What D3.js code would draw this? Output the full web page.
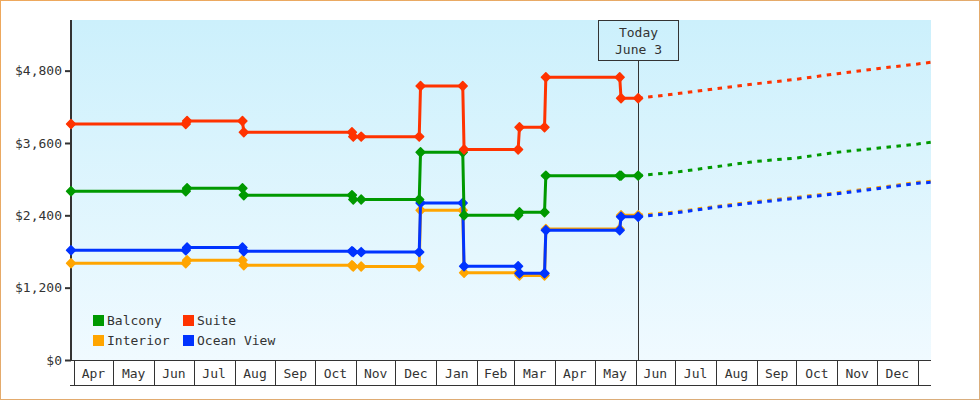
<!DOCTYPE html>
<html>
<head>
<meta charset="utf-8">
<script src="https://cdn.jsdelivr.net/npm/d3@7"></script>
<style>
  html, body { margin: 0; padding: 0; background: #fff; }
  svg { display: block; }
  text { font-family: "DejaVu Sans Mono", monospace; font-size: 13px; fill: #333; }
</style>
</head>
<body>
<svg id="chart" width="980" height="400"></svg>
<script>
// ---------- data ----------
const seriesNames = ["Interior", "Ocean View", "Balcony", "Suite"];
const seriesColors = ["#ffa500", "#0033ff", "#009900", "#ff3300"];

const historyDates = ["2014-03-30","2014-06-25","2014-06-26","2014-08-07","2014-08-08",
  "2014-10-29","2014-10-30","2014-11-05","2014-12-19","2014-12-20","2015-01-21","2015-01-22",
  "2015-03-04","2015-03-05","2015-03-24","2015-03-25","2015-05-20","2015-05-21","2015-06-03"];

const interiorHistory  = [1604,1604,1654,1654,1571,1571,1551,1551,1551,2484,2484,1448,1448,1402,1402,2173,2173,2401,2401];
const oceanViewHistory = [1820,1820,1866,1866,1805,1805,1790,1790,1790,2605,2605,1555,1555,1438,1438,2152,2152,2377,2377];
const balconyHistory   = [2799,2799,2849,2849,2734,2734,2663,2663,2663,3446,3446,2401,2401,2450,2450,3058,3058,3058,3058];
const suiteHistory     = [3915,3915,3965,3965,3777,3777,3705,3705,3705,4546,4546,3492,3492,3860,3860,4690,4690,4342,4342];

const forecastDates = ["2015-06-03","2015-07-01","2015-08-01","2015-09-01","2015-10-01",
  "2015-11-01","2015-12-01","2016-01-01","2016-01-11"];
const interiorForecast  = [2401,2455,2549,2629,2699,2775,2858,2947,2964];
const oceanViewForecast = [2377,2439,2533,2613,2683,2759,2842,2931,2948];
const balconyForecast   = [3058,3114,3207,3296,3351,3446,3512,3583,3612];
const suiteForecast     = [4342,4413,4501,4584,4657,4750,4833,4911,4939];

const yTicks = [0, 1200, 2400, 3600, 4800];
const domainStart = "2014-03-30";
const domainEnd = "2016-01-11";
const todayDate = "2015-06-03";
const todayLabel = ["Today", "June 3"];
const legendOrder = ["Balcony", "Suite", "Interior", "Ocean View"];

// ---------- chart ----------
const parse = d3.timeParse("%Y-%m-%d");
const histories = [interiorHistory, oceanViewHistory, balconyHistory, suiteHistory];
const forecasts = [interiorForecast, oceanViewForecast, balconyForecast, suiteForecast];

const svg = d3.select("#chart");
const L = 71, R = 931, T = 20, B = 360;

const x = d3.scaleTime().domain([parse(domainStart), parse(domainEnd)]).range([L, R]);
const y = d3.scaleLinear().domain([0, 5640]).range([B, T]);

const defs = svg.append("defs");
const grad = defs.append("linearGradient").attr("id", "bg").attr("x1", 0).attr("y1", 0).attr("x2", 0).attr("y2", 1);
grad.append("stop").attr("offset", "0%").attr("stop-color", "#ccf0fc");
grad.append("stop").attr("offset", "100%").attr("stop-color", "#f0faff");

const bgrad = defs.append("linearGradient").attr("id", "border").attr("x1", 0).attr("y1", 0).attr("x2", 1).attr("y2", 1);
bgrad.append("stop").attr("offset", "0%").attr("stop-color", "#eea85c");
bgrad.append("stop").attr("offset", "100%").attr("stop-color", "#d9ae7e");

svg.append("rect").attr("x", 0.5).attr("y", 0.5).attr("width", 979).attr("height", 399)
  .attr("fill", "#fff").attr("stroke", "url(#border)").attr("stroke-width", 1);

svg.append("rect").attr("x", L).attr("y", T).attr("width", R - L).attr("height", B - T)
  .attr("fill", "url(#bg)");

// x axis boxes
const months = d3.timeMonth.range(d3.timeMonth.ceil(x.domain()[0]), x.domain()[1]);
const axisG = svg.append("g");
axisG.append("line").attr("x1", L - 1).attr("x2", R).attr("y1", B + 0.5).attr("y2", B + 0.5)
  .attr("stroke", "#333").attr("stroke-width", 1);
axisG.append("line").attr("x1", L - 1).attr("x2", R).attr("y1", B + 25.5).attr("y2", B + 25.5)
  .attr("stroke", "#333").attr("stroke-width", 1);
axisG.selectAll("line.mt").data(months).join("line").attr("class", "mt")
  .attr("x1", d => Math.round(x(d)) + 0.5).attr("x2", d => Math.round(x(d)) + 0.5)
  .attr("y1", B).attr("y2", B + 25)
  .attr("stroke", "#333").attr("stroke-width", 1);
const fmtMonth = d3.timeFormat("%b");
axisG.selectAll("text.ml").data(months.filter(m => d3.timeMonth.offset(m, 1) <= x.domain()[1]))
  .join("text").attr("class", "ml")
  .attr("x", d => (x(d) + x(d3.timeMonth.offset(d, 1))) / 2)
  .attr("y", B + 18)
  .attr("text-anchor", "middle")
  .text(d => fmtMonth(d));

// y axis
const yAxis = d3.axisLeft(y).tickValues(yTicks).tickSizeInner(6).tickSizeOuter(0).tickPadding(3)
  .tickFormat(d => "$" + d3.format(",")(d));
const yg = svg.append("g").attr("transform", `translate(${L},0)`).call(yAxis);
yg.select(".domain").attr("stroke", "#333").attr("stroke-width", 2).attr("d", `M0,${T}V${B + 1}`);
yg.selectAll(".tick line").attr("stroke", "#333").attr("stroke-width", 2);
yg.selectAll(".tick text").attr("font-family", null).attr("font-size", null).attr("fill", "#333");
yg.attr("font-family", null).attr("font-size", null);

// today marker
const xt = x(parse(todayDate));
const xtr = Math.round(xt) + 0.5;
svg.append("line").attr("x1", xtr).attr("x2", xtr).attr("y1", T + 40).attr("y2", B)
  .attr("stroke", "#333").attr("stroke-width", 1);
svg.append("rect").attr("x", xtr - 40).attr("y", T + 0.5).attr("width", 80).attr("height", 40)
  .attr("fill", "none").attr("stroke", "#333").attr("stroke-width", 1);
svg.append("text").attr("x", xtr).attr("y", 37).attr("text-anchor", "middle").text(todayLabel[0]);
svg.append("text").attr("x", xtr).attr("y", 54).attr("text-anchor", "middle").text(todayLabel[1]);

// series
const line = d3.line().x(d => x(d.date)).y(d => y(d.value));
const diamond = "M0,-4.4L4.4,0L0,4.4L-4.4,0Z";

seriesNames.forEach((name, i) => {
  const color = seriesColors[i];
  const hist = historyDates.map((d, j) => ({ date: parse(d), value: histories[i][j] }));
  const fc = forecastDates.map((d, j) => ({ date: parse(d), value: forecasts[i][j] }));
  const g = svg.append("g");
  g.append("path").datum(fc).attr("d", line).attr("fill", "none")
    .attr("stroke", color).attr("stroke-width", 3).attr("stroke-dasharray", "4.5,5.5");
  g.append("path").datum(hist).attr("d", line).attr("fill", "none")
    .attr("stroke", color).attr("stroke-width", 3).attr("stroke-linejoin", "miter");
  g.selectAll("path.mk").data(hist).join("path").attr("class", "mk")
    .attr("d", diamond)
    .attr("transform", d => `translate(${x(d.date)},${y(d.value)})`)
    .attr("fill", color)
    .attr("stroke", color).attr("stroke-width", 1.6).attr("stroke-linejoin", "round");
});

// legend
const legendPos = [[93, 315], [183, 315], [93, 335], [183, 335]];
legendOrder.forEach((name, k) => {
  const i = seriesNames.indexOf(name);
  const [lx, ly] = legendPos[k];
  svg.append("rect").attr("x", lx).attr("y", ly).attr("width", 11).attr("height", 11)
    .attr("fill", seriesColors[i]);
  svg.append("text").attr("x", lx + 14).attr("y", ly + 10).text(name);
});
</script>
</body>
</html>
